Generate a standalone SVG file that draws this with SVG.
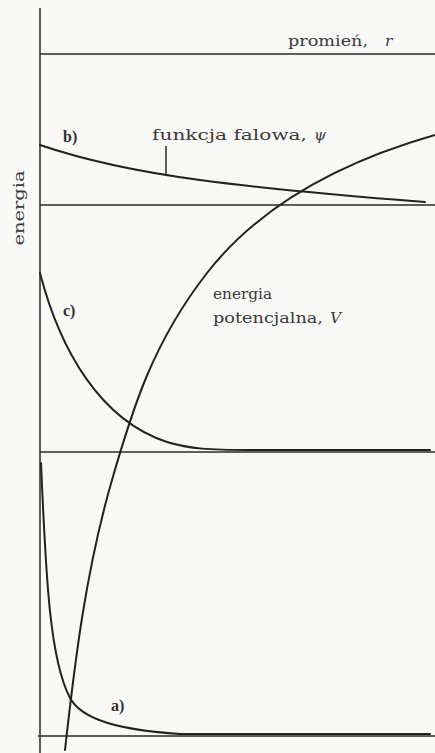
<svg xmlns="http://www.w3.org/2000/svg" width="435" height="753" viewBox="0 0 435 753">
<style>
.ax{stroke:#2a2a2a;stroke-width:1.5;fill:none}
.cv{stroke:#222;stroke-width:2;fill:none;stroke-linecap:round}
.t{font-family:"DejaVu Serif","Liberation Serif",serif;font-size:15.5px;fill:#3a3a3a}
.i{font-style:italic}
.lb{font-family:"Liberation Serif","DejaVu Serif",serif;font-size:16px;font-weight:bold;fill:#333}
</style>
<rect width="435" height="753" fill="#f8f8f6"/>
<g id="axes">
<line class="ax" x1="40" y1="8" x2="40" y2="753"/>
<line class="ax" x1="40" y1="54" x2="435" y2="54"/>
<line class="ax" x1="40" y1="205" x2="435" y2="205"/>
<line class="ax" x1="40" y1="452" x2="435" y2="452"/>
<line class="ax" x1="38" y1="736" x2="435" y2="736"/>
</g>
<g id="curves">
<path id="potential" class="cv" d="M65,750 C75,660 86,570 112,480 C132.2,410 152.4,343 207,273 C253.8,213 330,165 435,135"/>
<path id="wave-b" class="cv" d="M40,145 C90,162 140,172 200,180 C260,188 360,197 425,202"/>
<path id="wave-c" class="cv" d="M40,273 C60,350 100,420 167,442 C190,449 210,450 250,450 L430,450"/>
<path id="wave-a" class="cv" d="M41,463 C46,580 50,660 70,698 C82,720 120,730 180,734 L430,734"/>
<line class="ax" x1="166" y1="146" x2="166" y2="174"/>
</g>
<g id="labels">
<text class="t" x="288" y="46" textLength="80" lengthAdjust="spacingAndGlyphs">promień,</text>
<text class="t i" x="385" y="46">r</text>
<text class="t" x="152" y="140" textLength="155" lengthAdjust="spacingAndGlyphs">funkcja falowa,</text>
<text class="t i" x="314" y="140">ψ</text>
<text class="t" x="213" y="299" textLength="59" lengthAdjust="spacingAndGlyphs">energia</text>
<text class="t" x="213" y="323" textLength="110" lengthAdjust="spacingAndGlyphs">potencjalna,</text>
<text class="t i" x="330" y="323">V</text>
<text class="t" transform="translate(24,208) rotate(-90)" text-anchor="middle" textLength="75" lengthAdjust="spacingAndGlyphs">energia</text>
<text class="lb" x="63" y="142">b)</text>
<text class="lb" x="63" y="316">c)</text>
<text class="lb" x="111" y="711">a)</text>
</g>
</svg>
